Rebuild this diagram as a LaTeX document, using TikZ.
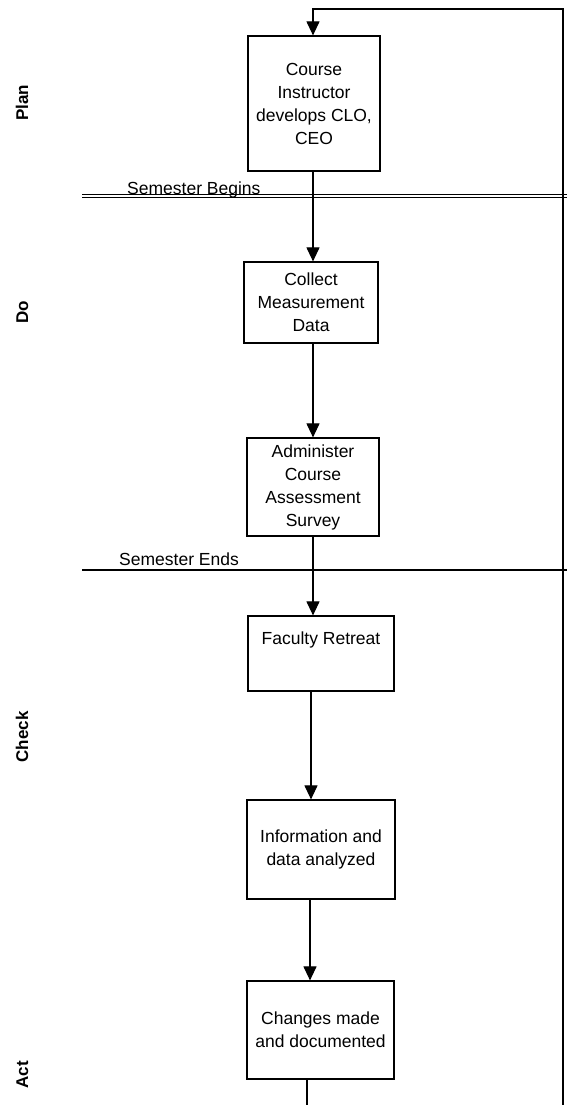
\documentclass[tikz,border=0pt]{standalone}
\usepackage{fontspec}
\setmainfont{Liberation Sans}
\usetikzlibrary{arrows.meta}
\begin{document}
\begin{tikzpicture}[x=1pt,y=-1pt,
  stepbox/.style={draw,line width=1.2pt,inner sep=0pt,align=center,
    font=\fontsize{17.5}{23}\selectfont},
  arr/.style={line width=1.1pt,-{Triangle[width=13pt,length=14pt]}},
  conn/.style={line width=1.1pt},
  phase/.style={rotate=90,anchor=base,font=\fontsize{17}{20}\selectfont\bfseries},
  milestone/.style={anchor=base west,inner sep=0pt,font=\fontsize{17.5}{20}\selectfont}]
\useasboundingbox (0,0) rectangle (567,1105);
% boxes
\node[stepbox,minimum width=132pt,minimum height=135pt] (b1) at (314,103.5)
  {Course\\Instructor\\develops CLO,\\CEO};
\node[stepbox,minimum width=134pt,minimum height=81pt] (b2) at (311,302.5)
  {Collect\\Measurement\\Data};
\node[stepbox,minimum width=132pt,minimum height=98pt] (b3) at (313,487)
  {Administer\\Course\\Assessment\\Survey};
\node[stepbox,minimum width=146pt,minimum height=75pt] (b4) at (321,653.5)
  {Faculty Retreat\\\strut};
\node[stepbox,minimum width=148pt,minimum height=99pt] (b5) at (321,849.5)
  {Information and\\data analyzed};
\node[stepbox,minimum width=147pt,minimum height=98pt] (b6) at (320.5,1030)
  {Changes made\\and documented};
% phase labels
\node[phase] (plan) at (28,103) {Plan};
\node[phase] (do) at (28,312) {Do};
\node[phase] (check) at (28,737) {Check};
\node[phase] (act) at (28,1075) {Act};
% milestone lines
\coordinate (sbl) at (82,194);
\coordinate (sbr) at (567,194);
\coordinate (sbl2) at (82,197.5);
\coordinate (sbr2) at (567,197.5);
\coordinate (sel) at (82,570);
\coordinate (ser) at (567,570);
\draw[line width=0.9pt] (sbl) -- (sbr);
\draw[line width=0.9pt] (sbl2) -- (sbr2);
\draw[line width=2pt] (sel) -- (ser);
\node[milestone] (sb) at (127,194) {Semester Begins};
\node[milestone] (se) at (119,565) {Semester Ends};
% spine coordinates
\coordinate (x1) at (313,0);
\coordinate (x4) at (311,0);
\coordinate (x5) at (310,0);
\coordinate (x6) at (307,0);
\coordinate (tl) at (313,9);
\coordinate (tr) at (563,9);
\coordinate (br) at (563,1105);
\coordinate (bb) at (307,1105);
% connectors
\draw[arr] (b1.south -| x1) -- (b2.north -| x1);
\draw[arr] (b2.south -| x1) -- (b3.north -| x1);
\draw[arr] (b3.south -| x1) -- (b4.north -| x1);
\draw[arr] (b4.south -| x4) -- (b5.north -| x4);
\draw[arr] (b5.south -| x5) -- (b6.north -| x5);
\draw[conn] (b6.south -| x6) -- (bb);
\draw[arr] (br) -- (tr) -- (tl) -- (b1.north -| tl);
\end{tikzpicture}
\end{document}
